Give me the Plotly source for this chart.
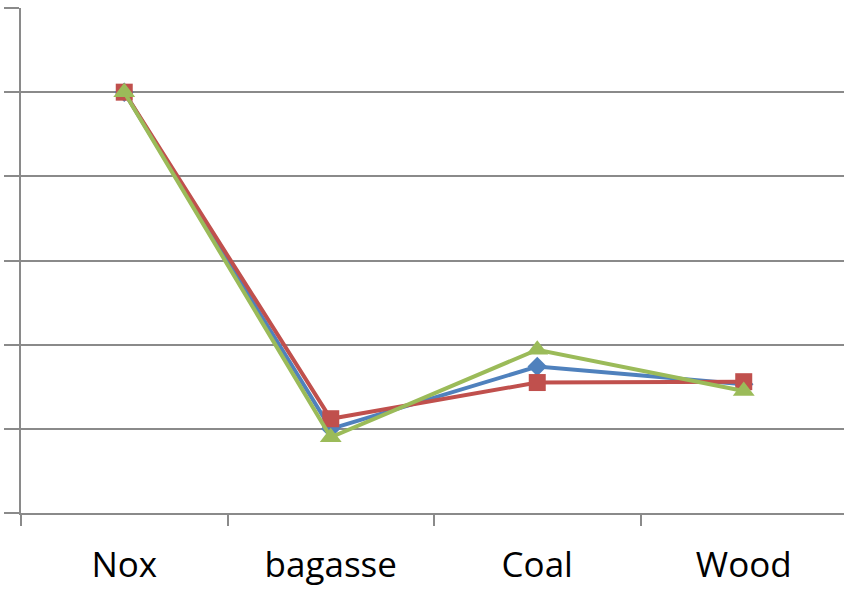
import plotly.graph_objects as go

# Fuel categories and the three plotted series
categories = ["Nox", "bagasse", "Coal", "Wood"]
series_blue = [5.0, 1.0, 1.74, 1.53]
series_red = [5.0, 1.12, 1.55, 1.56]
series_green = [5.0, 0.9, 1.94, 1.45]

y_tick_values = [0, 1, 2, 3, 4, 5, 6]

grid_color = "#8a8a8a"

fig = go.Figure()

traces = [
    (series_blue, "#4F81BD", "diamond", 15),
    (series_red, "#C0504D", "square", 17),
    (series_green, "#9BBB59", "triangle-up", 19),
]
for values, color, symbol, size in traces:
    fig.add_trace(go.Scatter(
        x=categories,
        y=values,
        mode="lines+markers",
        line=dict(color=color, width=4),
        marker=dict(symbol=symbol, size=size, color=color),
        showlegend=False,
        cliponaxis=False,
    ))

fig.update_layout(
    width=844,
    height=589,
    margin=dict(l=21, r=0, t=8, b=76),
    paper_bgcolor="white",
    plot_bgcolor="white",
    font=dict(family="Open Sans", color="black"),
)

fig.update_xaxes(
    type="category",
    range=[-0.5, 3.4855],
    tickson="boundaries",
    ticks="outside",
    ticklen=11,
    tickwidth=2,
    tickcolor=grid_color,
    showline=True,
    linecolor=grid_color,
    linewidth=2,
    showgrid=False,
    tickfont=dict(size=35, family="Open Sans", color="black"),
    ticklabelstandoff=20,
    automargin=False,
)

fig.update_yaxes(
    range=[0, 6],
    tickvals=y_tick_values,
    showticklabels=False,
    ticks="outside",
    ticklen=15,
    tickwidth=2,
    tickcolor=grid_color,
    showline=True,
    linecolor=grid_color,
    linewidth=2,
    showgrid=True,
    gridcolor=grid_color,
    gridwidth=2,
    zeroline=False,
    automargin=False,
)

fig.write_html("out.html")
